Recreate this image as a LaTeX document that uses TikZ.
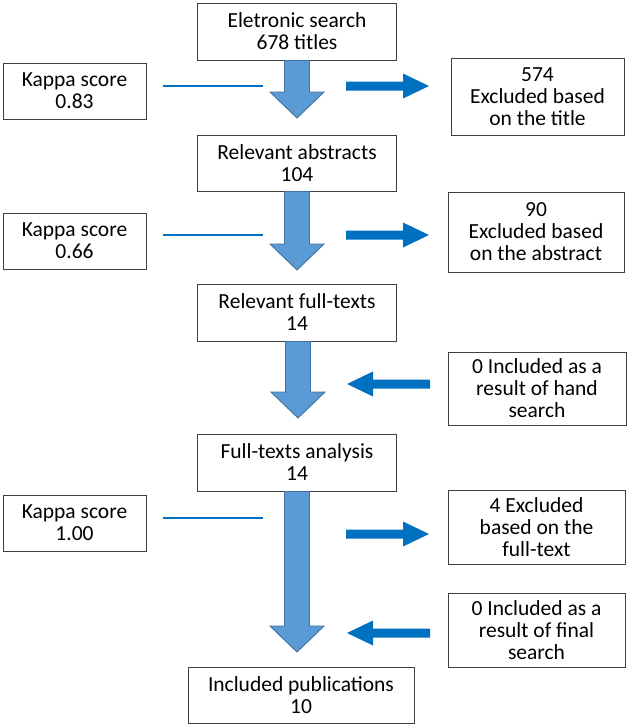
\documentclass[tikz,border=0pt]{standalone}
\usepackage{fontspec}
\setmainfont{Carlito}
\usetikzlibrary{calc}
\definecolor{arrfill}{HTML}{5B9BD5}
\definecolor{arredge}{HTML}{41719C}
\definecolor{lineblue}{HTML}{0070C0}
\definecolor{boxedge}{HTML}{404040}
\tikzset{
  box/.style={draw=boxedge, line width=0.9pt, fill=white, align=center, inner sep=0pt,
    font=\fontsize{21.5}{22}\selectfont},
  blockarrow/.style={fill=arrfill, draw=arredge, line width=0.9pt, line join=miter},
  thinline/.style={draw=lineblue, line width=2.2pt},
  fatarrow/.style={fill=lineblue, draw=none},
}
\begin{document}
\begin{tikzpicture}[x=1pt,y=-1pt]
\useasboundingbox (0,0) rectangle (630,726);
% boxes
\node[box, minimum width=199pt, minimum height=57pt] (e1) at (297,31.5) {Eletronic search\\678 titles};
\node[box, minimum width=143pt, minimum height=56pt] (k1) at (74.5,91) {Kappa score\\0.83};
\node[box, minimum width=173pt, minimum height=77pt] (x1) at (537.5,96.5) {574\\Excluded based\\on the title};
\node[box, minimum width=199pt, minimum height=56pt] (e2) at (297,163) {Relevant abstracts\\104};
\node[box, minimum width=143pt, minimum height=56pt] (k2) at (74.5,241) {Kappa score\\0.66};
\node[box, minimum width=176pt, minimum height=80pt] (x2) at (536,232) {90\\Excluded based\\on the abstract};
\node[box, minimum width=199pt, minimum height=57pt] (e3) at (297,312.5) {Relevant full-texts\\14};
\node[box, minimum width=178pt, minimum height=73pt] (x3) at (537,388.5) {0 Included as a\\result of hand\\search};
\node[box, minimum width=199pt, minimum height=57pt] (e4) at (297,462.5) {Full-texts analysis\\14};
\node[box, minimum width=143pt, minimum height=56pt] (k3) at (74.5,523) {Kappa score\\1.00};
\node[box, minimum width=177pt, minimum height=74pt] (x4) at (536.5,527) {4 Excluded\\based on the\\full-text};
\node[box, minimum width=177pt, minimum height=74pt] (x5) at (536.5,630) {0 Included as a\\result of final\\search};
\node[box, minimum width=226pt, minimum height=56pt] (e5) at (301,695) {Included publications\\10};
% tips of block arrows
\coordinate (t1) at (297,118);
\coordinate (t2) at (297,270);
\coordinate (t3) at (298,418);
\coordinate (t4) at (297,652);
% block arrows
\foreach \s/\t in {e1/t1,e2/t2,e3/t3,e4/t4}{
  \draw[blockarrow]
    ($(\s.south -| \t)+(-12.5,0)$) -- ($(\t)+(-12.5,-26)$) -- ($(\t)+(-27,-26)$) -- (\t)
    -- ($(\t)+(27,-26)$) -- ($(\t)+(12.5,-26)$) -- ($(\s.south -| \t)+(12.5,0)$) -- cycle;
}
% thin lines from kappa
\coordinate (l1a) at (163,86);  \coordinate (l1b) at (263,86);
\coordinate (l2a) at (163,235); \coordinate (l2b) at (263,235);
\coordinate (l3a) at (163,518); \coordinate (l3b) at (263,518);
\draw[thinline] (l1a) -- (l1b);
\draw[thinline] (l2a) -- (l2b);
\draw[thinline] (l3a) -- (l3b);
% fat horizontal arrows: start, tip
\coordinate (r1s) at (346,86);  \coordinate (r1t) at (429,86);
\coordinate (r2s) at (346,235); \coordinate (r2t) at (429,235);
\coordinate (r4s) at (346,534); \coordinate (r4t) at (429,534);
\coordinate (h3s) at (430,384); \coordinate (h3t) at (347,384);
\coordinate (h5s) at (430,633); \coordinate (h5t) at (347,633);
\foreach \s/\t in {r1s/r1t,r2s/r2t,r4s/r4t}{
  \fill[fatarrow] ($(\s)+(0,-4.5)$) -- ($(\t)+(-26,-4.5)$) -- ($(\t)+(-26,-12.5)$) -- (\t)
    -- ($(\t)+(-26,12.5)$) -- ($(\t)+(-26,4.5)$) -- ($(\s)+(0,4.5)$) -- cycle;
}
\foreach \s/\t in {h3s/h3t,h5s/h5t}{
  \fill[fatarrow] ($(\s)+(0,-4.5)$) -- ($(\t)+(26,-4.5)$) -- ($(\t)+(26,-12.5)$) -- (\t)
    -- ($(\t)+(26,12.5)$) -- ($(\t)+(26,4.5)$) -- ($(\s)+(0,4.5)$) -- cycle;
}
\end{tikzpicture}
\end{document}
